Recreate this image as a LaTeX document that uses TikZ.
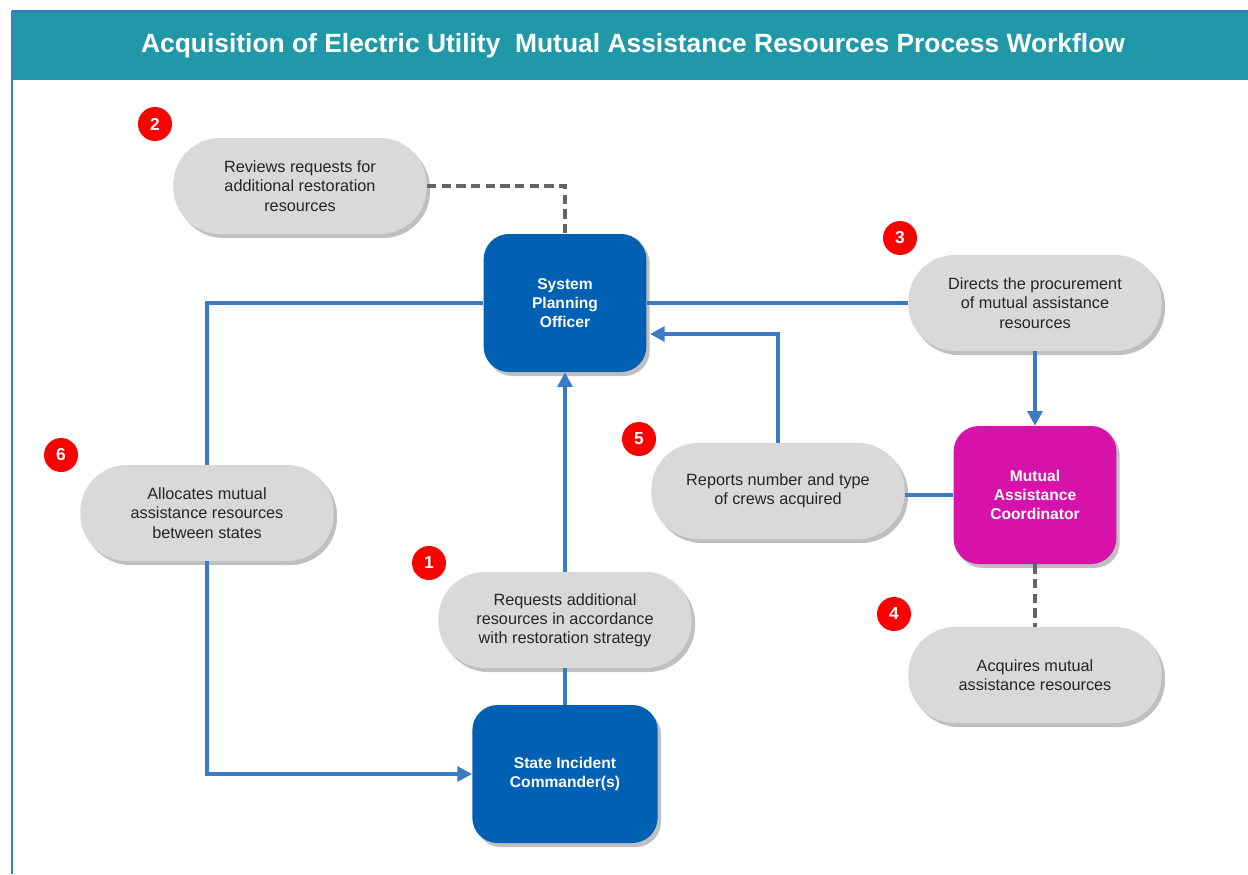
\documentclass[tikz,border=0pt]{standalone}
\usepackage{fontspec}
\setmainfont{Liberation Sans}
\usetikzlibrary{shadows,arrows.meta}

\begin{document}
\begin{tikzpicture}[x=0.75pt,y=-0.75pt]
% Define workflow colours
\definecolor{titlebar}{RGB}{33,152,168}
\definecolor{officer}{RGB}{0,96,180}
\definecolor{coordinator}{RGB}{214,18,170}
\definecolor{taskgray}{RGB}{217,217,217}
\definecolor{flow}{RGB}{59,122,196}
\definecolor{badgered}{RGB}{255,0,0}
\definecolor{dashgray}{RGB}{100,100,100}
\tikzset{
  softshadow/.style={drop shadow={shadow xshift=2.5pt,shadow yshift=-3pt,opacity=0.25,fill=black}},
  role/.style={rounded corners=19pt,fill=officer,text=white,align=center,
    font=\fontsize{11.7}{14.3}\selectfont\bfseries,minimum width=122pt,minimum height=103.5pt,softshadow},
  task/.style={rounded corners=35pt,fill=taskgray,text=black!85,align=center,
    font=\fontsize{12.2}{14.4}\selectfont,minimum width=190pt,minimum height=72pt,softshadow},
  badge/.style={circle,fill=badgered,text=white,font=\fontsize{13}{13}\selectfont\bfseries,
    minimum size=25.5pt,inner sep=0pt},
  flowline/.style={draw=flow,line width=2.8pt},
  flowarrow/.style={flowline,-{Triangle[length=11pt,width=11pt]}},
  dashline/.style={draw=dashgray,line width=2.8pt,dash pattern=on 7pt off 4pt}
}
\useasboundingbox (0,0) rectangle (1248,874);

% Draw frame and title
\fill[white] (0,0) rectangle (1248,874);
\fill[titlebar] (12,11) rectangle (1248,80);
\draw[flow,line width=0.8pt] (12,11) -- (1248,11);
\draw[flow,line width=0.8pt] (12,11) -- (12,874);
\node[text=white,font=\fontsize{19.8}{22}\selectfont\bfseries] (title) at (633,46)
  {Acquisition of Electric Utility~ Mutual Assistance Resources Process Workflow};

% Draw roles
\node[role] (spo) at (565,303) {System\\Planning\\Officer};
\node[role,fill=coordinator] (mac) at (1035,495) {Mutual\\Assistance\\Coordinator};
\node[role,minimum width=139pt] (sic) at (565,774) {State Incident\\Commander(s)};

% Draw tasks
\node[task] (review) at (300,186) {Reviews requests for\\additional restoration\\resources};
\node[task] (direct) at (1035,303) {Directs the procurement\\of mutual assistance\\resources};
\node[task] (acquire) at (1035,675) {Acquires mutual\\assistance resources};
\node[task] (report) at (778,491) {Reports number and type\\of crews acquired};
\node[task] (allocate) at (207,513) {Allocates mutual\\assistance resources\\between states};
\node[task] (request) at (565,620) {Requests additional\\resources in accordance\\with restoration strategy};

% Draw step numbers
\node[badge] (n1) at (429,563) {1};
\node[badge] (n2) at (155,124) {2};
\node[badge] (n3) at (900,238) {3};
\node[badge] (n4) at (894,614) {4};
\node[badge] (n5) at (639,439) {5};
\node[badge] (n6) at (61,455) {6};

% Draw connections
\coordinate (spoin) at (650,334);
\draw[flowline] (request.south) -- (sic.north);
\draw[flowarrow] (request.north) -- (spo.south);
\draw[dashline] (review.east) -| (spo.north);
\draw[flowline] (spo.east) -- (direct.west);
\draw[flowarrow] (direct.south) -- (mac.north);
\draw[dashline] (mac.south) -- (acquire.north);
\draw[flowline] (mac.west) -- (mac.west -| report.east);
\draw[flowarrow] (report.north) |- (spoin);
\draw[flowline] (spo.west) -| (allocate.north);
\draw[flowarrow] (allocate.south) |- (sic.west);
\end{tikzpicture}
\end{document}
